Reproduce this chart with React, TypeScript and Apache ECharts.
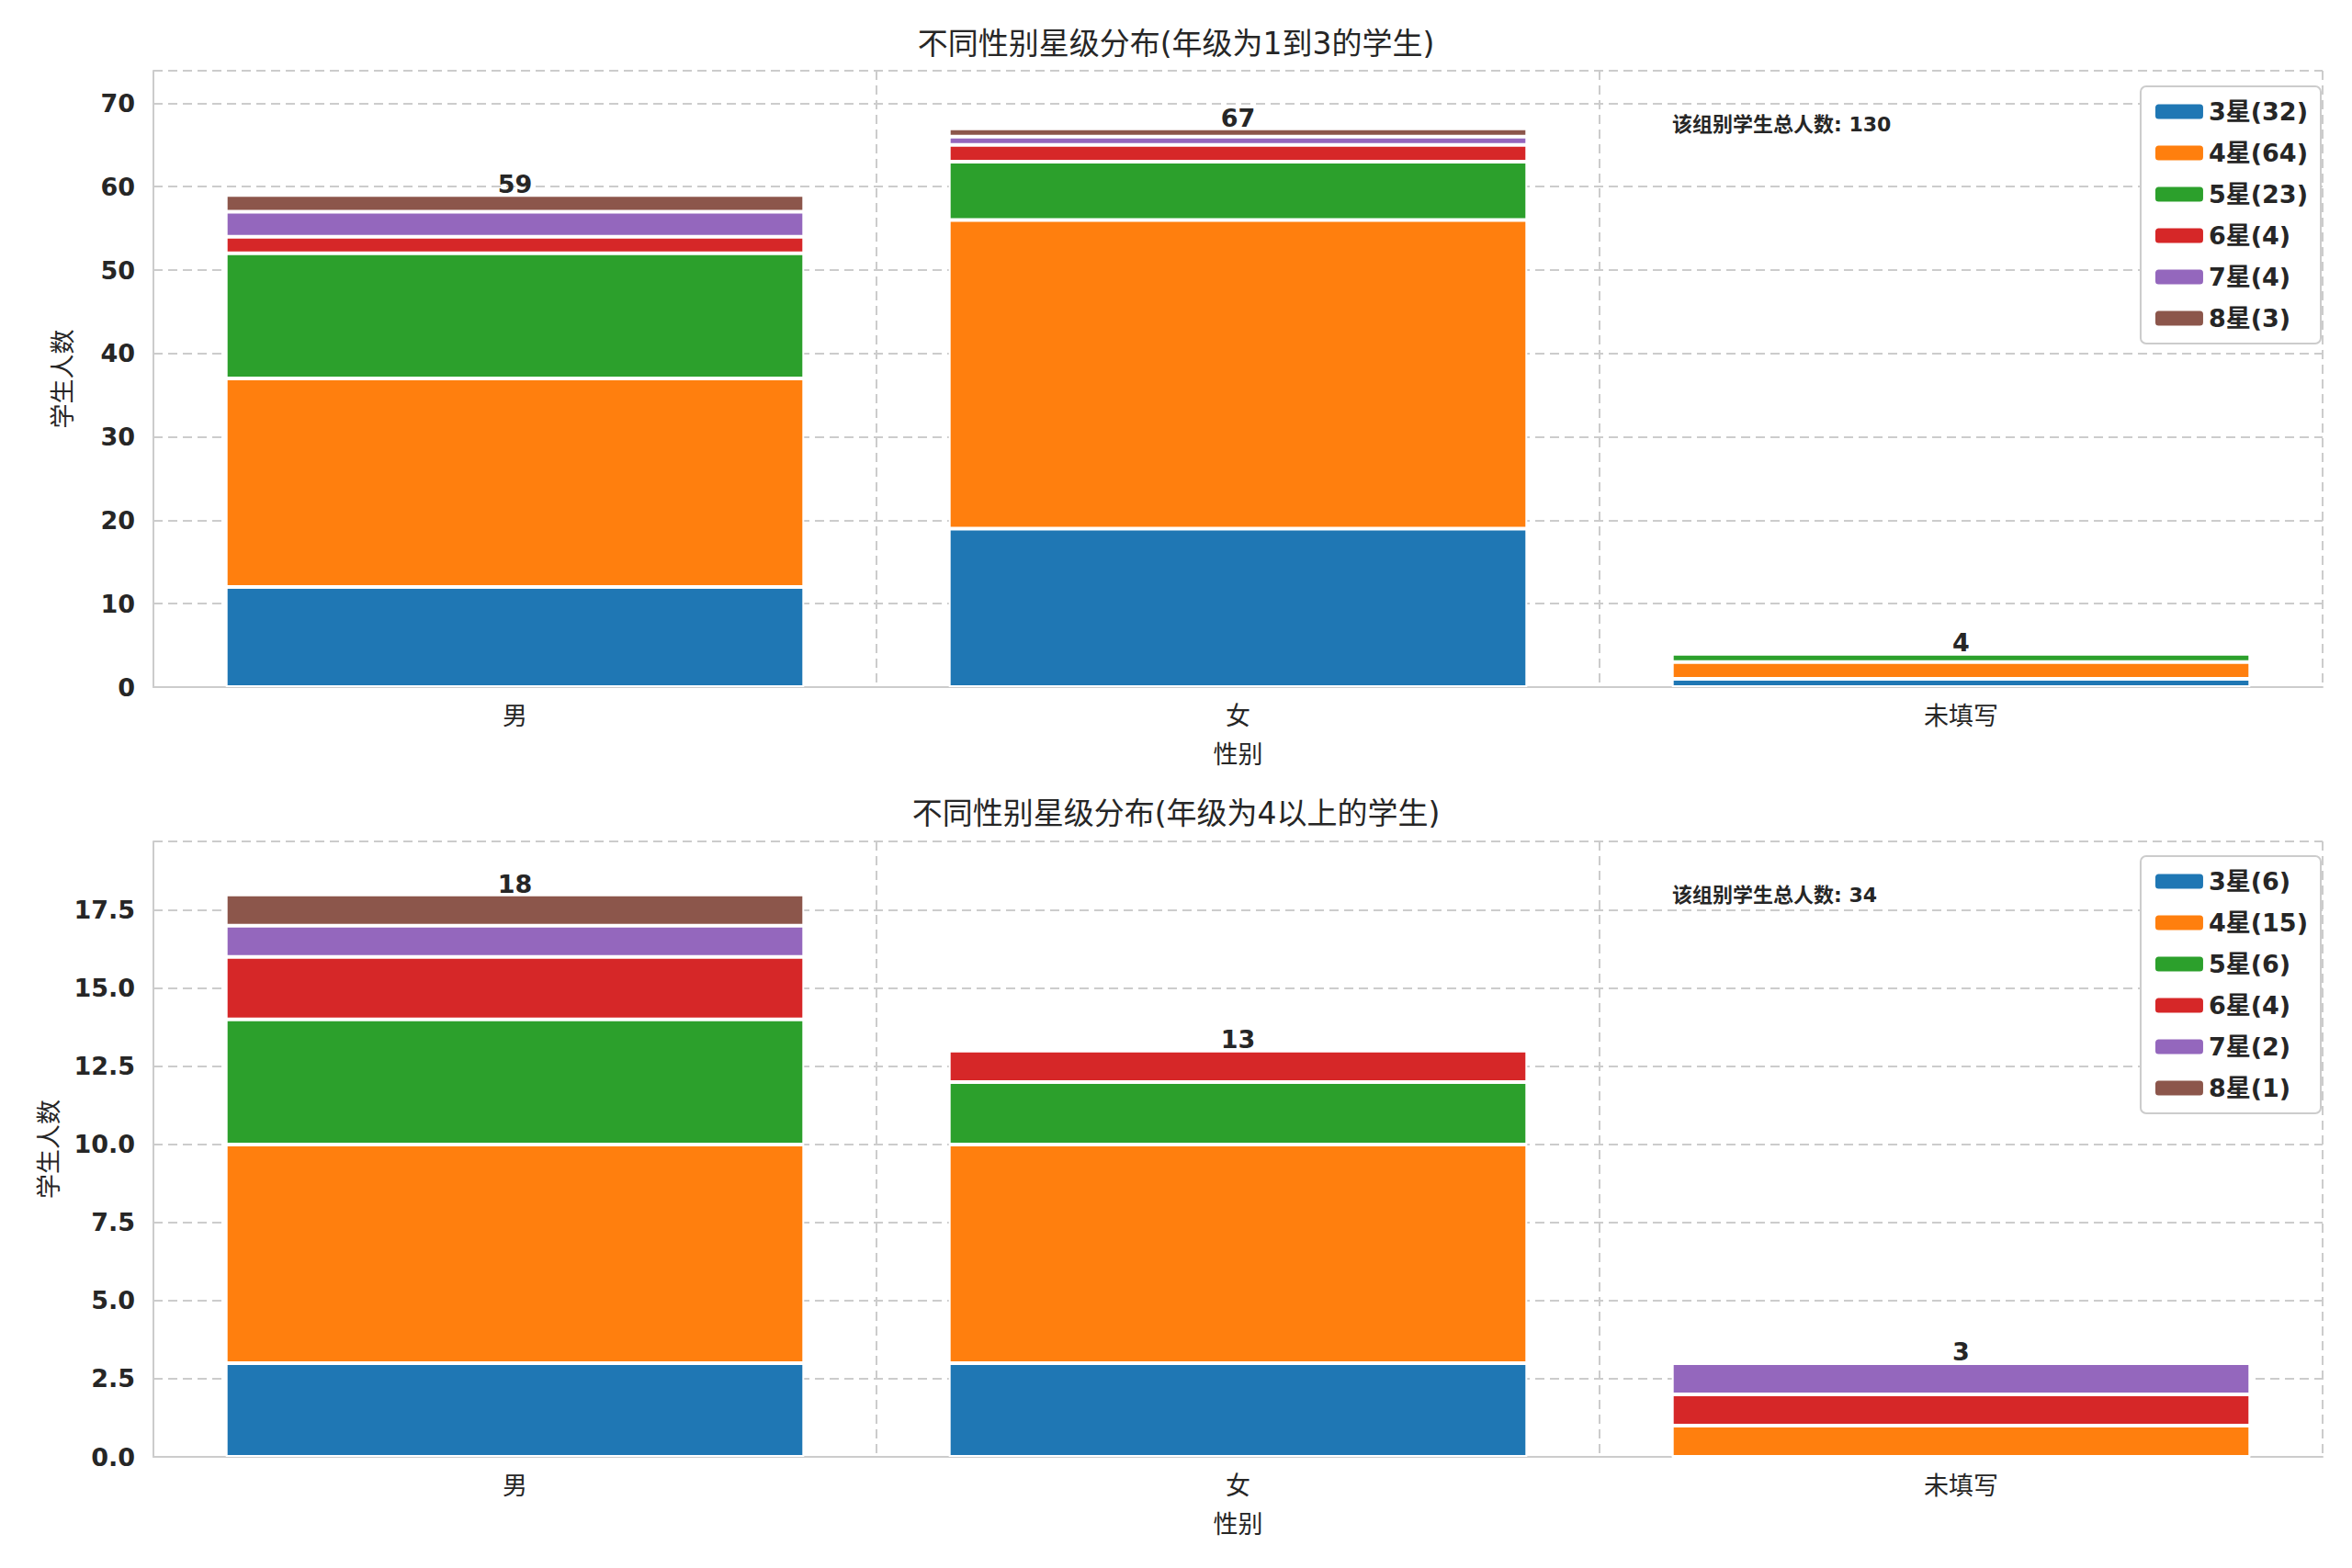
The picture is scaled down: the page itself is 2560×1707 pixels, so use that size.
import { useEffect, useRef } from "react";
import * as echarts from "echarts";

const CATEGORIES = ["男", "女", "未填写"];
const STARS = ["3星", "4星", "5星", "6星", "7星", "8星"];
const COLORS = ["#1f77b4", "#ff7f0e", "#2ca02c", "#d62728", "#9467bd", "#8c564b"];

// rows: star level, columns: category
const TOP_VALUES = [
  [12, 19, 1],
  [25, 37, 2],
  [15, 7, 1],
  [2, 2, 0],
  [3, 1, 0],
  [2, 1, 0],
];
const BOTTOM_VALUES = [
  [3, 3, 0],
  [7, 7, 1],
  [4, 2, 0],
  [2, 1, 1],
  [1, 0, 1],
  [1, 0, 0],
];

const TOP_TITLE = "不同性别星级分布(年级为1到3的学生)";
const BOTTOM_TITLE = "不同性别星级分布(年级为4以上的学生)";
const TOP_NOTE = "该组别学生总人数: 130";
const BOTTOM_NOTE = "该组别学生总人数: 34";

const FONT = "DejaVu Sans, Noto Sans CJK SC, sans-serif";
const TEXT = "#262626";

function sumOf(rows: number[][]) {
  return rows[0].map((_, i) => rows.reduce((s, r) => s + r[i], 0));
}

function buildSeries(values: number[][], gridIdx: number, stack: string) {
  const totals = sumOf(values);
  return values.map((row, si) => ({
    name: `${STARS[si]}(${row.reduce((a, b) => a + b, 0)})`,
    type: "bar",
    stack,
    xAxisIndex: gridIdx,
    yAxisIndex: gridIdx,
    barWidth: "80%",
    data: row,
    itemStyle: { color: COLORS[si], borderColor: "#fff", borderWidth: 2 },
    label:
      si === values.length - 1
        ? {
            show: true,
            position: "top",
            distance: -2,
            formatter: (p: any) => String(totals[p.dataIndex]),
            fontFamily: FONT,
            fontWeight: "bold",
            fontSize: 27,
            color: TEXT,
          }
        : { show: false },
  }));
}

export default function App() {
  const ref = useRef<HTMLDivElement | null>(null);

  useEffect(() => {
    document.body.style.margin = "0";
    if (!ref.current) return;
    const chart = echarts.init(ref.current, undefined, { renderer: "svg" });
    const axisLine = { show: true, lineStyle: { color: "#cccccc", width: 2 } };
    const split = { show: true, lineStyle: { color: "#cccccc", type: [10, 6], width: 2 } };
    const xAxis = (gi: number) => ({
      type: "category",
      gridIndex: gi,
      data: CATEGORIES,
      name: "性别",
      nameLocation: "middle",
      nameGap: 60,
      nameTextStyle: { fontFamily: FONT, fontSize: 27, color: TEXT },
      axisLine,
      axisTick: { show: false },
      axisLabel: { fontFamily: FONT, fontSize: 27, color: TEXT, margin: 18 },
      splitLine: { ...split, interval: 0 },
    });
    const yAxis = (gi: number, max: number, interval: number, dec: number, gap: number) => ({
      type: "value",
      gridIndex: gi,
      min: 0,
      max,
      interval,
      name: "学生人数",
      nameLocation: "middle",
      nameGap: gap,
      nameTextStyle: { fontFamily: FONT, fontSize: 27, color: TEXT },
      axisLine,
      axisTick: { show: false },
      axisLabel: {
        fontFamily: FONT,
        fontSize: 27,
        fontWeight: "bold",
        color: TEXT,
        margin: 20,
        showMaxLabel: false,
        formatter: (v: number) => v.toFixed(dec),
      },
      splitLine: split,
    });
    const legend = (names: string[], top: number) => ({
      data: names,
      orient: "vertical",
      right: 34,
      top,
      itemWidth: 54,
      itemHeight: 18,
      itemGap: 18,
      padding: [14, 14, 14, 14],
      borderColor: "#cccccc",
      borderWidth: 2,
      borderRadius: 6,
      backgroundColor: "#fff",
      textStyle: { fontFamily: FONT, fontSize: 27, fontWeight: "bold", color: TEXT },
    });
    const topSeries = buildSeries(TOP_VALUES, 0, "a");
    const botSeries = buildSeries(BOTTOM_VALUES, 1, "b");
    chart.setOption({
      animation: false,
      backgroundColor: "#fff",
      title: [
        { text: TOP_TITLE, left: "center", top: 26, textStyle: { fontFamily: FONT, fontSize: 33, fontWeight: "normal", color: TEXT } },
        { text: BOTTOM_TITLE, left: "center", top: 864, textStyle: { fontFamily: FONT, fontSize: 33, fontWeight: "normal", color: TEXT } },
      ],
      grid: [
        { left: 167, right: 32, top: 77, height: 671 },
        { left: 167, right: 32, top: 916, height: 670 },
      ],
      legend: [legend(topSeries.map((s) => s.name), 94), legend(botSeries.map((s) => s.name), 932)],
      xAxis: [xAxis(0), xAxis(1)],
      yAxis: [yAxis(0, 73.9, 10, 0, 85), yAxis(1, 19.7, 2.5, 1, 100)],
      graphic: [
        { type: "text", left: 1820, top: 124, style: { text: TOP_NOTE, font: `bold 22px ${FONT}`, fill: TEXT } },
        { type: "text", left: 1820, top: 963, style: { text: BOTTOM_NOTE, font: `bold 22px ${FONT}`, fill: TEXT } },
      ],
      series: [...topSeries, ...botSeries],
    });
    return () => chart.dispose();
  }, []);

  return <div ref={ref} style={{ width: 2560, height: 1707 }} />;
}
